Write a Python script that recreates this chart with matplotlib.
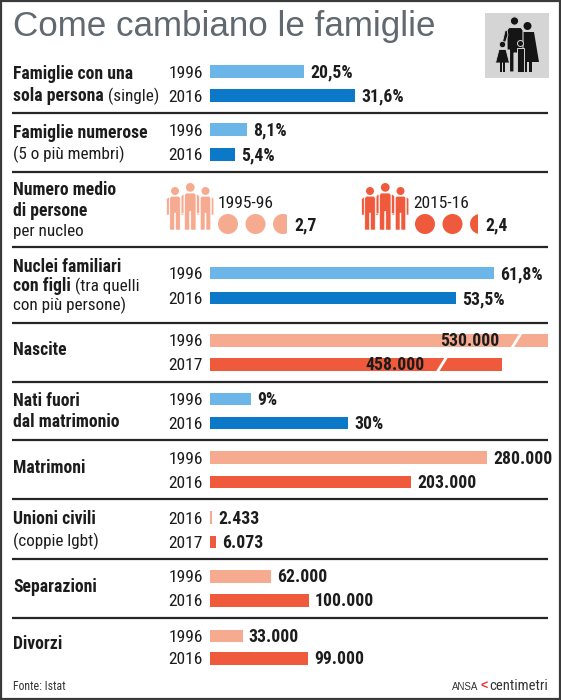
import matplotlib
matplotlib.use('Agg')
import matplotlib.pyplot as plt
from matplotlib.patches import Rectangle, Circle, Polygon

# ---------------- data ----------------
single_years = ['1996', '2016']
single_pct = [20.5, 31.6]
numerose_years = ['1996', '2016']
numerose_pct = [8.1, 5.4]
media_periods = ['1995-96', '2015-16']
media_persone = [2.7, 2.4]
figli_years = ['1996', '2016']
figli_pct = [61.8, 53.5]
nascite_years = ['1996', '2017']
nascite = [530000, 458000]
fuori_years = ['1996', '2016']
fuori_pct = [9, 30]
matrimoni_years = ['1996', '2016']
matrimoni = [280000, 203000]
unioni_years = ['2016', '2017']
unioni = [2433, 6073]
separazioni_years = ['1996', '2016']
separazioni = [62000, 100000]
divorzi_years = ['1996', '2016']
divorzi = [33000, 99000]

# ---------------- style / layout ----------------
W, H = 561, 700
X0 = 210            # bar origin (px)
YEAR_X = 203
BH = 12.5
BASE = 6            # baseline offset from row centre
NARROW = ['Roboto Condensed', 'DejaVu Sans']
REG = ['Liberation Sans', 'DejaVu Sans']
TXT = '#1c1c1c'
LB, DB = '#6cb5e8', '#0b79c8'
LS, RS = '#f6aa90', '#ef5a3c'

fig = plt.figure(figsize=(W / 100, H / 100), dpi=100)
fig.patch.set_facecolor('white')
bg = fig.add_axes([0, 0, 1, 1])
bg.set_xlim(0, W)
bg.set_ylim(H, 0)
bg.axis('off')
renderer = fig.canvas.get_renderer()


def fit_size(sample, weight, target_px, family=NARROW, base=12.0):
    t = bg.text(0, 0, sample, fontsize=base, fontweight=weight, family=family)
    w = t.get_window_extent(renderer).width
    t.remove()
    return base * target_px / w


# font sizes calibrated on widths measured in the reference
FS_LB = fit_size('Famiglie numerose', 'bold', 135)
FS_LR = 0.5 * (FS_LB + 0.5 * (fit_size('(5 o più membri)', 'normal', 107) +
                              fit_size('con più persone)', 'normal', 112)))
FS_YR = 0.5 * (FS_LB + fit_size('1996', 'normal', 34))
FS_VAL = (fit_size('20,5%', 'bold', 45) + fit_size('280.000', 'bold', 56) +
          fit_size('100.000', 'bold', 57)) / 3
FS_TITLE = fit_size('Come cambiano le famiglie', 'normal', 422, family=REG, base=25)


def bar_axes(px_per_unit):
    ax = fig.add_axes([0, 0, 1, 1])
    ax.set_xlim(-X0 / px_per_unit, (W - X0) / px_per_unit)
    ax.set_ylim(H, 0)
    ax.axis('off')
    ax.patch.set_alpha(0)
    return ax


S_PCT = 4.6          # px per percent
S_CNT = 0.99 / 1000  # px per unit
S_NAS = 0.637 / 1000
ax_pct = bar_axes(S_PCT)
ax_cnt = bar_axes(S_CNT)
ax_nas = bar_axes(S_NAS)


def fmt_pct(v):
    if float(v).is_integer():
        return f"{int(v)}%"
    return f"{v:.1f}".replace('.', ',') + '%'


def fmt_cnt(v):
    return f"{v:,}".replace(',', '.')


def year(c, yr):
    bg.text(YEAR_X, c + BASE, yr, ha='right', va='baseline', fontsize=FS_YR,
            family=NARROW, color=TXT)


def rows(ax, centers, years, values, colors, fmt):
    ax.barh(centers, values, height=BH, color=colors, linewidth=0)
    for c, yr, v in zip(centers, years, values):
        year(c, yr)
        ax.annotate(fmt(v), xy=(v, c), xytext=(6, -BASE), textcoords='offset pixels',
                    ha='left', va='baseline', fontsize=FS_VAL, fontweight='bold',
                    family=NARROW, color=TXT)


def label(lines, baselines, x=13):
    for segs, yb in zip(lines, baselines):
        xx = x
        for txt, bold in segs:
            t = bg.text(xx, yb, txt, ha='left', va='baseline',
                        fontsize=FS_LB if bold else FS_LR,
                        fontweight='bold' if bold else 'normal', family=NARROW,
                        color=TXT)
            ext = t.get_window_extent(renderer)
            xx = bg.transData.inverted().transform((ext.x1, 0))[0]


# ---------------- title & frame ----------------
bg.add_patch(Rectangle((1, 1), W - 2, H - 2, fill=False, ec='#3a3a3a', lw=1.6))
bg.text(13, 36, 'Come cambiano le famiglie', fontsize=FS_TITLE, family=REG,
        color='#606970', va='baseline', ha='left')

# family icon
bg.add_patch(Rectangle((485, 13), 64, 65, fc='#d5d5d5', ec='none'))
K = '#151515'
G = '#d5d5d5'
# mother
bg.add_patch(Circle((527.5, 26), 4, fc=K, ec='none'))
bg.add_patch(Polygon([(521, 32), (534, 32), (539, 62), (518, 62)], fc=K, ec='none'))
bg.add_patch(Rectangle((524, 61), 2.6, 11, fc=K, ec='none'))
bg.add_patch(Rectangle((529.5, 61), 2.6, 11, fc=K, ec='none'))
# father
bg.add_patch(Circle((514.5, 21), 4.2, fc=K, ec=G, lw=0.8))
bg.add_patch(Polygon([(507, 30), (509, 27.5), (521, 27.5), (523, 30), (523, 50),
                      (521, 50), (521, 72), (516.5, 72), (516.5, 53), (514, 53),
                      (514, 72), (509.5, 72), (509.5, 50), (507, 50)],
                     fc=K, ec=G, lw=0.8))
bg.add_patch(Polygon([(507, 30), (505, 31), (501.5, 46), (504, 46.5), (508, 35)],
                     fc=K, ec=G, lw=0.6))
# girl
bg.add_patch(Circle((502.5, 44.5), 3.2, fc=K, ec=G, lw=0.6))
bg.add_patch(Polygon([(499, 49.5), (506, 49.5), (509.5, 63), (495.5, 63)],
                     fc=K, ec=G, lw=0.6))
bg.add_patch(Rectangle((499.8, 62), 2.2, 10, fc=K, ec='none'))
bg.add_patch(Rectangle((503.2, 62), 2.2, 10, fc=K, ec='none'))
# small child
bg.add_patch(Circle((520.5, 43.5), 3, fc=K, ec=G, lw=0.7))
bg.add_patch(Polygon([(517, 48), (524, 48), (524, 72), (517, 72)],
                     fc=K, ec=G, lw=0.7))

# section separators
bg.hlines([113, 172, 247, 323, 382, 440, 499, 559, 618], 12, 548,
          color='#262626', lw=1.6)

# ---------------- sections ----------------
label([[('Famiglie con una', True)], [('sola persona', True), (' (single)', False)]],
      [79, 101])
rows(ax_pct, [71.5, 95.5], single_years, single_pct, [LB, DB], fmt_pct)

label([[('Famiglie numerose', True)], [('(5 o più membri)', False)]], [138, 159])
rows(ax_pct, [129.5, 154.5], numerose_years, numerose_pct, [LB, DB], fmt_pct)

label([[('Numero medio', True)], [('di persone', True)], [('per nucleo', False)]],
      [195, 216, 236])


def person(xc, top, h, color):
    k = h / 43.0
    bg.add_patch(Circle((xc, top + 4 * k), 4 * k, fc=color, ec='none'))
    body = [(-5.2, 11), (-4, 9.2), (4, 9.2), (5.2, 11), (5.2, 43), (0.5, 43),
            (0.5, 26), (-0.5, 26), (-0.5, 43), (-5.2, 43)]
    bg.add_patch(Polygon([(xc + px * k, top + py * k) for px, py in body],
                         fc=color, ec='white', lw=0.4))
    for side in (-1, 1):
        x1 = xc + side * 5.8 * k
        x2 = xc + side * 8.3 * k
        bg.add_patch(Polygon([(x1, top + 9.8 * k), (x2, top + 11.8 * k),
                              (x2, top + 28 * k), (x1, top + 28 * k)],
                             fc=color, ec='white', lw=0.4))


def circles(x_first, yc, value, color, r=10, step=27.5):
    n_full = int(value)
    frac = value - n_full
    for i in range(n_full):
        bg.add_patch(Circle((x_first + i * step, yc), r, fc=color, ec='none'))
    if frac > 0:
        cx = x_first + n_full * step
        c = Circle((cx, yc), r, fc=color, ec='none')
        bg.add_patch(c)
        clip = Rectangle((cx - r, yc - r), 2 * r * frac, 2 * r,
                         transform=bg.transData)
        c.set_clip_path(clip)
    return x_first + n_full * step - r + 2 * r * frac


groups = [(175, LS, 218, 228), (370, RS, 413, 425)]
for (gx, col, lx, cx0), period, val in zip(groups, media_periods, media_persone):
    person(gx, 187, 43, col)
    person(gx + 30.5, 187, 43, col)
    person(gx + 15.25, 183, 47, col)
    bg.text(lx, 208, period, ha='left', va='baseline', fontsize=FS_YR, family=NARROW,
            color=TXT)
    end = circles(cx0, 224, val, col)
    bg.text(end + 7, 230, f"{val:.1f}".replace('.', ','), ha='left', va='baseline',
            fontsize=FS_VAL, fontweight='bold', family=NARROW, color=TXT)

label([[('Nuclei familiari', True)], [('con figli', True), (' (tra quelli', False)],
       [('con più persone)', False)]], [272, 291, 310])
rows(ax_pct, [273, 298], figli_years, figli_pct, [LB, DB], fmt_pct)

# Nascite (broken bars, labels inside)
label([[('Nascite', True)]], [355])
nas_centers = [340.5, 364.5]
break_frac = [0.908, 0.795]
ax_nas.barh(nas_centers, nascite, height=BH, color=[LS, RS], linewidth=0)
for c, yr, v, bf in zip(nas_centers, nascite_years, nascite, break_frac):
    year(c, yr)
    bv = v * bf
    dx = 4.5 / (S_NAS)
    ax_nas.plot([bv - dx, bv + dx], [c + BH / 2 + 1, c - BH / 2 - 1], color='white',
                lw=2.0, solid_capstyle='butt')
    ax_nas.annotate(fmt_cnt(v), xy=(bv, c), xytext=(-17, -BASE),
                    textcoords='offset pixels', ha='right', va='baseline',
                    fontsize=FS_VAL, fontweight='bold', family=NARROW, color=TXT)

label([[('Nati fuori', True)], [('dal matrimonio', True)]], [406, 427])
rows(ax_pct, [399, 423], fuori_years, fuori_pct, [LB, DB], fmt_pct)

label([[('Matrimoni', True)]], [473])
rows(ax_cnt, [457.5, 482], matrimoni_years, matrimoni, [LS, RS], fmt_cnt)

label([[('Unioni civili', True)], [('(coppie lgbt)', False)]], [524, 546])
rows(ax_cnt, [517.5, 542], unioni_years, unioni, [LS, RS], fmt_cnt)

label([[('Separazioni', True)]], [592])
rows(ax_cnt, [576.5, 600.5], separazioni_years, separazioni, [LS, RS], fmt_cnt)

label([[('Divorzi', True)]], [649])
rows(ax_cnt, [636, 658.5], divorzi_years, divorzi, [LS, RS], fmt_cnt)

# ---------------- footer ----------------
bg.text(13, 690, 'Fonte: Istat', ha='left', va='baseline', fontsize=8.5,
        family=NARROW, color='#333333')
t = bg.text(548, 690, 'centimetri', ha='right', va='baseline', fontsize=10.5,
            family=NARROW, color='#333333')
ext = t.get_window_extent(renderer)
xl = bg.transData.inverted().transform((ext.x0, 0))[0]
t2 = bg.text(xl - 1, 690, '<', ha='right', va='baseline', fontsize=9,
             fontweight='bold', family=REG, color='#e8303a')
ext2 = t2.get_window_extent(renderer)
xl2 = bg.transData.inverted().transform((ext2.x0, 0))[0]
bg.text(xl2 - 3, 690, 'ANSA', ha='right', va='baseline', fontsize=7,
        family=REG, color='#333333')

fig.savefig('out.png', dpi=100, facecolor='white')
